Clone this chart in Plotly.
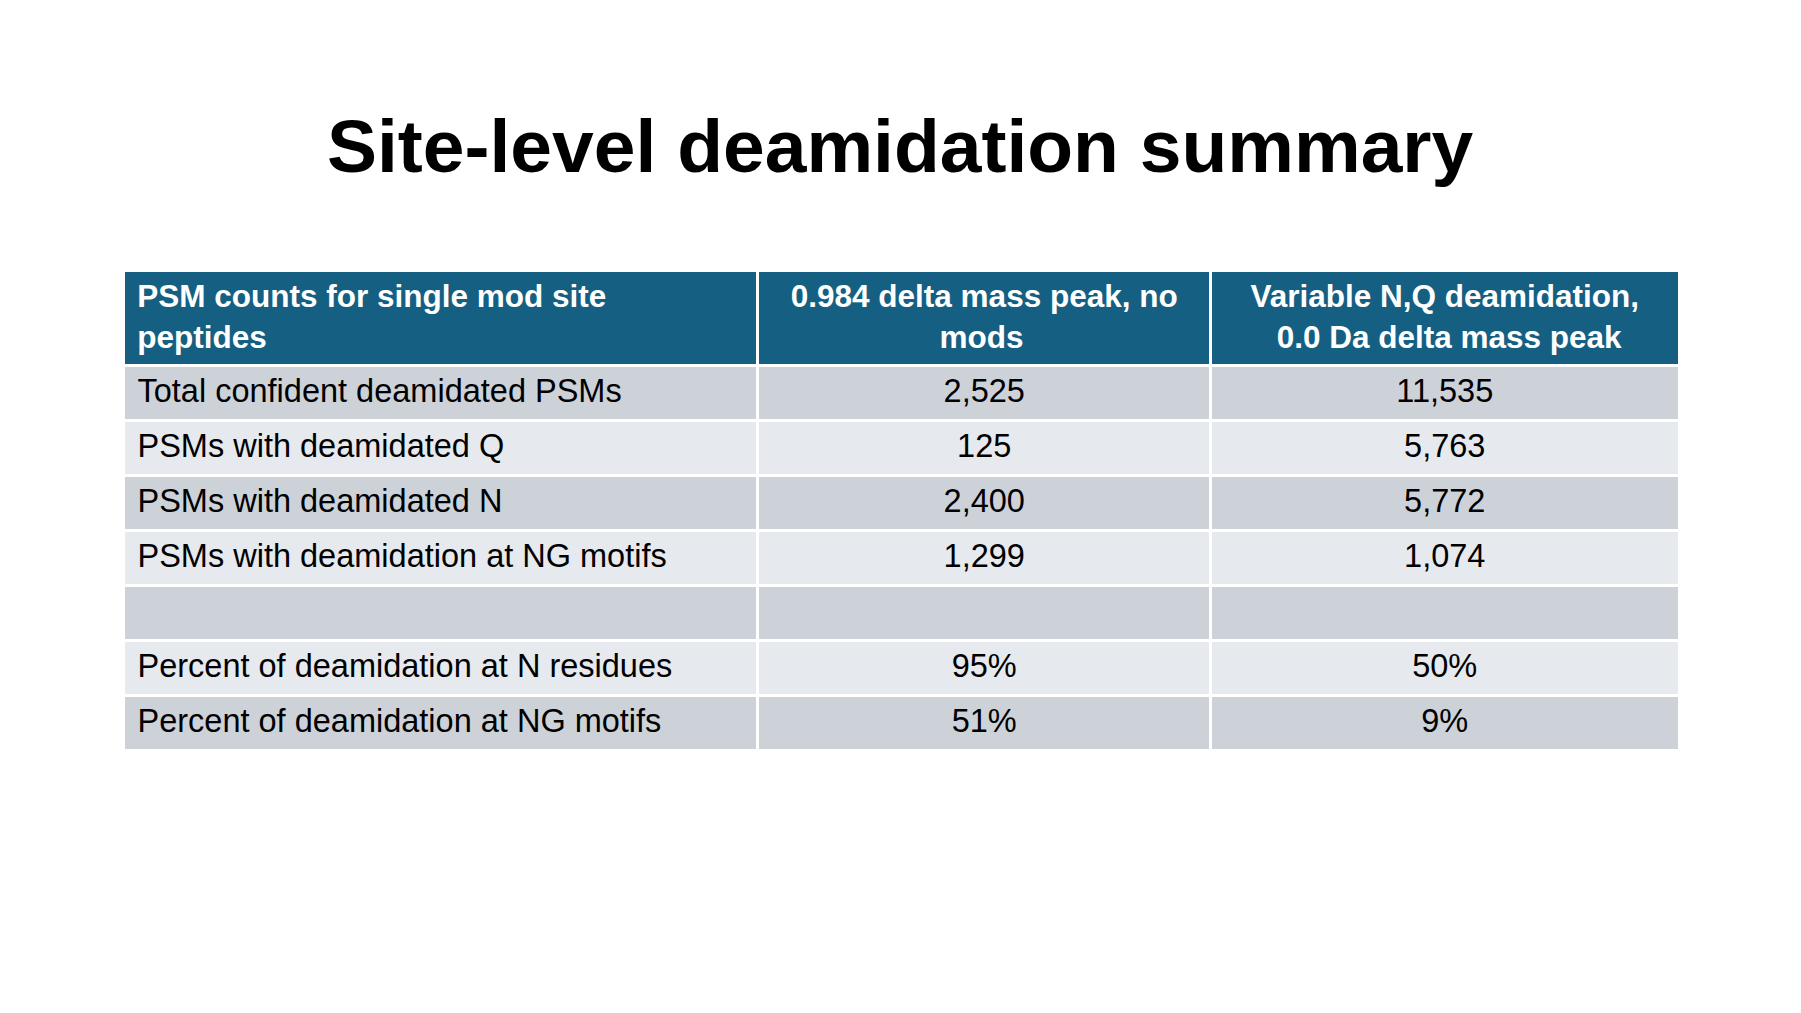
import plotly.graph_objects as go

title = "Site-level deamidation summary"

# header lines; plotly left-aligns lines inside a centred block, so the short
# second lines get a few non-breaking spaces in front
header_lines = [
    ["PSM counts for single mod site", "peptides"],
    ["0.984 delta mass peak, no", "\u00a0" * 17 + "mods"],
    ["Variable N,Q deamidation,", "\u00a0" * 3 + "0.0 Da delta mass peak"],
]

row_labels = [
    "Total confident deamidated PSMs",
    "PSMs with deamidated Q",
    "PSMs with deamidated N",
    "PSMs with deamidation at NG motifs",
    "",
    "Percent of deamidation at N residues",
    "Percent of deamidation at NG motifs",
]
delta_peak = ["2,525", "125", "2,400", "1,299", "", "95%", "51%"]
variable_nq = ["11,535", "5,763", "5,772", "1,074", "", "50%", "9%"]

band = ["#CDD2D9", "#E6E9ED"]
row_fill = [band[i % 2] for i in range(len(row_labels))]

FONT = "Liberation Sans, Arial, sans-serif"


def shift(txt, px):
    # nudges text down inside the cell
    if not txt:
        return txt
    return "<span style='baseline-shift:-%dpx'>%s</span>" % (px, txt)


header = ["<br>".join(shift(l, 3) for l in lines) for lines in header_lines]
header[0] = header[0].replace(">PSM", ">\u2009PSM", 1).replace(">peptides", ">\u2009peptides")
# trailing <br> stops plotly's own word wrapping so the span markup is parsed
col1 = [shift("\u2009" + t, 6) + "<br>" if t else "" for t in row_labels]
col2 = [shift(t, 6) + "<br>" if t else "" for t in delta_peak]
col3 = [shift(t, 6) + "<br>" if t else "" for t in variable_nq]

W, H = 1801, 1013
fig = go.Figure(go.Table(
    columnwidth=[637, 454, 470],
    domain=dict(x=[115 / W, 1672 / W], y=[0, 1 - 262 / H]),
    header=dict(
        values=header,
        fill_color="#156082",
        line=dict(color="white", width=3),
        align=["left", "center", "center"],
        font=dict(family=FONT, size=31.5, color="white", weight="bold"),
        height=95,
    ),
    cells=dict(
        values=[col1, col2, col3],
        fill_color=[row_fill] * 3,
        line=dict(color="white", width=3),
        align=["left", "center", "center"],
        font=dict(family=FONT, size=32.5, color="black"),
        height=55,
    ),
))

fig.add_annotation(
    text="<b>" + title + "</b>", x=892 / W, y=1 - 138 / H,
    xref="paper", yref="paper", xanchor="center", yanchor="middle",
    showarrow=False,
    font=dict(family=FONT, size=75, color="black"),
)

fig.update_layout(
    width=W, height=H, autosize=False,
    margin=dict(l=0, r=0, t=0, b=0),
    paper_bgcolor="white", plot_bgcolor="white",
)

fig.write_html("out.html")
